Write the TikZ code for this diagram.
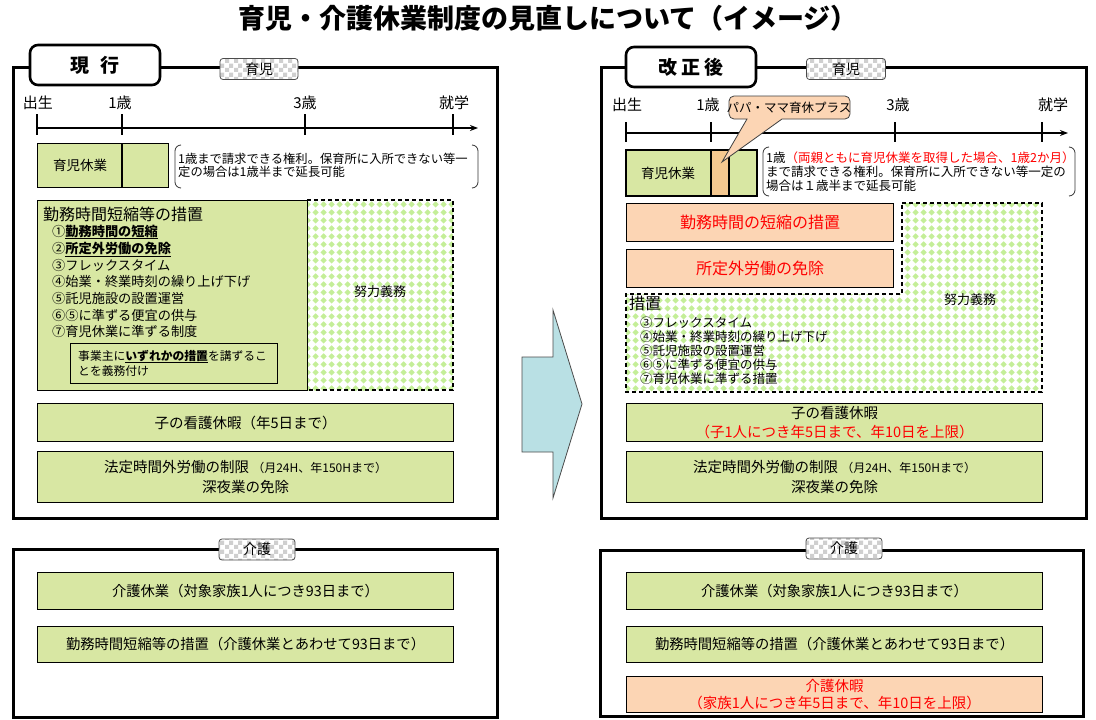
\documentclass[tikz,border=0pt]{standalone}
\usepackage{fontspec}
\setmainfont{Noto Sans CJK JP}
\usetikzlibrary{patterns,patterns.meta,arrows.meta}
\definecolor{gfill}{HTML}{D8E7A3}
\definecolor{ofill}{HTML}{FCD5B4}
\definecolor{oseg}{HTML}{F5C890}
\definecolor{dgreen}{HTML}{C4EE98}
\definecolor{afill}{HTML}{B9E0E4}
\definecolor{jred}{HTML}{FF0000}
\definecolor{chkgray}{HTML}{CFCFCF}
\tikzdeclarepattern{
  name=gdiam,
  type=uncolored,
  bounding box={(0pt,0pt) and (8pt,8pt)},
  tile size={(8pt,8pt)},
  code={\fill (4pt,0.5pt) -- (7.5pt,4pt) -- (4pt,7.5pt) -- (0.5pt,4pt) -- cycle;}
}
\tikzdeclarepattern{
  name=chk,
  type=uncolored,
  bounding box={(0pt,0pt) and (9pt,9pt)},
  tile size={(9pt,9pt)},
  code={\fill (0pt,0pt) rectangle (4.5pt,4.5pt); \fill (4.5pt,4.5pt) rectangle (9pt,9pt);}
}
\begin{document}
\begin{tikzpicture}[x=1pt,y=-1pt,
  frame/.style={draw=black,line width=3pt},
  tabbox/.style={draw=black,line width=2.6pt,fill=white,rounded corners=8pt,inner sep=0pt},
  sectlab/.style={draw=black!70,line width=0.8pt,rounded corners=3pt,preaction={fill=white},pattern=chk,pattern color=chkgray,inner sep=0pt,minimum height=21pt,font=\fontsize{14}{14}\selectfont},
  gbox/.style={draw=black,line width=1.1pt,fill=gfill,inner sep=0pt,align=center},
  obox/.style={draw=black,line width=1.1pt,fill=ofill,inner sep=0pt,align=center},
  tl/.style={line width=1.6pt},
  tickline/.style={line width=1.6pt},
  tlab/.style={font=\fontsize{15}{15}\selectfont,inner sep=0pt},
  brk/.style={line width=0.8pt,black!80,rounded corners=6pt},
  diam/.style={pattern=gdiam,pattern color=dgreen},
  dashbox/.style={draw=black,line width=1.1pt,dash pattern=on 4pt off 3pt},
  txt/.style={inner sep=0pt,anchor=base west},
  ttl/.style={font=\bfseries\fontsize{27}{27}\selectfont,inner sep=0pt}
]
\useasboundingbox (0,0) rectangle (1096,720);
\fill[white] (0,0) rectangle (1096,720);

% title
\node[ttl] (title) at (548,18) {育児・介護休業制度の見直しについて（イメージ）};

% ================= LEFT: current =================
\draw[frame] (13,67) rectangle (497,518);
\node[tabbox,minimum width=130pt,minimum height=40pt,font=\bfseries\fontsize{19}{19}\selectfont] (tabL) at (95,65) {現\hspace{12pt}行};
\node[sectlab,minimum width=78pt] (ikujiL) at (259,69) {育児};

% timeline
\coordinate (tLs) at (37,128);
\coordinate (tLe) at (478,128);
\draw[tl,-{Stealth[length=8pt,width=6pt]}] (tLs) -- (tLe);
\foreach \x in {37,122,305,453} \draw[tickline] (\x,114) -- (\x,135);
\node[tlab] (l0) at (38,103) {出生};
\node[tlab] (l1) at (120,103) {1歳};
\node[tlab] (l3) at (305,103) {3歳};
\node[tlab] (l6) at (454,103) {就学};

% childcare leave box
\node[gbox,minimum width=131pt,minimum height=44pt,anchor=north west] (ikL) at (37,143) {};
\draw[line width=1.1pt] (122,143) -- (122,187);
\node[inner sep=0pt,font=\fontsize{13.5}{13.5}\selectfont] (ikLt) at (80,165) {育児休業};
% bracket note
\draw[brk] (181,145) -- (175,145) -- (175,188) -- (181,188);
\draw[brk] (472,145) -- (478,145) -- (478,188) -- (472,188);
\node[txt,font=\fontsize{12.3}{12.3}\selectfont] (noteL1) at (178,163) {1歳まで請求できる権利。保育所に入所できない等一};
\node[txt,font=\fontsize{12.3}{12.3}\selectfont] (noteL2) at (178,176) {定の場合は1歳半まで延長可能};

% measures
\path[diam] (307,200) rectangle (453,390);
\draw[dashbox] (307,200) -- (453,200) -- (453,390) -- (307,390);
\node[gbox,minimum width=270pt,minimum height=190pt,anchor=north west] (measL) at (37,200) {};
\node[inner sep=0pt,font=\fontsize{13}{13}\selectfont] (effL) at (380,292) {努力義務};
\node[txt,font=\fontsize{16}{16}\selectfont] (mh) at (43,220) {勤務時間短縮等の措置};
\begin{scope}[every node/.style={txt,font=\fontsize{13.2}{13.2}\selectfont}]
\node (m1) at (52,236) {①\textbf{\underline{勤務時間の短縮}}};
\node (m2) at (52,253) {②\textbf{\underline{所定外労働の免除}}};
\node (m3) at (52,270) {③フレックスタイム};
\node (m4) at (52,286) {④始業・終業時刻の繰り上げ下げ};
\node (m5) at (52,303) {⑤託児施設の設置運営};
\node (m6) at (52,320) {⑥⑤に準ずる便宜の供与};
\node (m7) at (52,336) {⑦育児休業に準ずる制度};
\end{scope}
\draw[line width=1pt] (70,343) rectangle (277,383);
\node[txt,font=\fontsize{11.8}{11.8}\selectfont] (dutyA) at (78,360) {事業主に\textbf{\underline{いずれかの措置}}を講ずるこ};
\node[txt,font=\fontsize{11.8}{11.8}\selectfont] (dutyB) at (78,375) {とを義務付け};

\node[gbox,minimum width=416pt,minimum height=38pt,anchor=north west,font=\fontsize{14.5}{14.5}\selectfont] (kangoL) at (37,403) {子の看護休暇（年5日まで）};
\node[gbox,minimum width=416pt,minimum height=51pt,anchor=north west,font=\fontsize{14.5}{20}\selectfont] (otL) at (37,451) {法定時間外労働の制限 {\fontsize{12}{12}\selectfont（月24H、年150Hまで）}\\深夜業の免除};

% ================= LEFT: nursing care =================
\draw[frame] (13,549) rectangle (497,717);
\node[sectlab,minimum width=76pt] (kaigoL) at (257,549.5) {介護};
\node[gbox,minimum width=416pt,minimum height=37pt,anchor=north west,font=\fontsize{14.3}{14.3}\selectfont] (kl1) at (37,572) {介護休業（対象家族1人につき93日まで）};
\node[gbox,minimum width=416pt,minimum height=36pt,anchor=north west,font=\fontsize{14.3}{14.3}\selectfont] (kl2) at (37,626) {勤務時間短縮等の措置（介護休業とあわせて93日まで）};

% ================= ARROW =================
\node[inner sep=0pt] (arrowc) at (552,404) {};
\draw[draw=black!70,line width=0.8pt,fill=afill] (522,357) -- (553,357) -- (553,310) -- (582,404) -- (553,498) -- (553,452) -- (522,452) -- cycle;

% ================= RIGHT: revised =================
\draw[frame] (601,67) rectangle (1086,518);
\node[tabbox,minimum width=130pt,minimum height=40pt,font=\bfseries\fontsize{19}{19}\selectfont] (tabR) at (691,67) {改\hspace{4pt}正\hspace{4pt}後};
\node[sectlab,minimum width=79pt] (ikujiR) at (846,69) {育児};

\coordinate (tRs) at (626,133);
\coordinate (tRe) at (1068,133);
\draw[tl,-{Stealth[length=8pt,width=6pt]}] (tRs) -- (tRe);
\foreach \x in {626,711,895,1042} \draw[tickline] (\x,122) -- (\x,142);
\node[tlab] (r0) at (627,105) {出生};
\node[tlab] (r1) at (708,105) {1歳};
\node[tlab] (r3) at (898,105) {3歳};
\node[tlab] (r6) at (1053,105) {就学};

\node[gbox,minimum width=131pt,minimum height=46pt,anchor=north west] (ikR) at (626,150) {};
\fill[oseg] (711,150) rectangle (729,196);
\draw[line width=1.1pt] (711,150) -- (711,196) (729,150) -- (729,196);
\draw[line width=1.1pt] (626,150) rectangle (757,196);
\node[inner sep=0pt,font=\fontsize{13.5}{13.5}\selectfont] (ikRt) at (668,173) {育児休業};

% callout
\coordinate (pptip) at (722,162);
\draw[draw=black!75,line width=0.8pt,fill=ofill] (747,119) -- (pptip) -- (782,119) [rounded corners=5pt] -- (850,119) -- (850,96) -- (729,96) -- (729,119) [sharp corners] -- cycle;
\node[inner sep=0pt,font=\fontsize{12.5}{12.5}\selectfont] (pp) at (789,108) {パパ・ママ育休プラス};

\draw[brk] (769,147) -- (763,147) -- (763,196) -- (769,196);
\draw[brk] (1069,147) -- (1075,147) -- (1075,196) -- (1069,196);
\node[txt,font=\fontsize{12.5}{12.5}\selectfont] (noteR1) at (766,162) {1歳\textcolor{jred}{（両親ともに育児休業を取得した場合、1歳2か月）}};
\node[txt,font=\fontsize{12.5}{12.5}\selectfont] (noteR2) at (766,176) {まで請求できる権利。保育所に入所できない等一定の};
\node[txt,font=\fontsize{12.5}{12.5}\selectfont] (noteR3) at (766,190) {場合は１歳半まで延長可能};

% L-shaped effort region
\path[diam] (902,203) -- (1042,203) -- (1042,392) -- (626,392) -- (626,294) -- (902,294) -- cycle;
\draw[dashbox] (902,203) -- (1042,203) -- (1042,392) -- (626,392) -- (626,294) -- (902,294) -- cycle;
\node[obox,minimum width=267pt,minimum height=38pt,anchor=north west,text=jred,font=\fontsize{16}{16}\selectfont] (shortR) at (626,203) {勤務時間の短縮の措置};
\node[obox,minimum width=267pt,minimum height=38pt,anchor=north west,text=jred,font=\fontsize{16}{16}\selectfont] (otexR) at (626,249) {所定外労働の免除};
\node[inner sep=0pt,font=\fontsize{13}{13}\selectfont] (effR) at (970,300) {努力義務};
\node[txt,font=\fontsize{16}{16}\selectfont] (mhR) at (629,309) {措置};
\begin{scope}[every node/.style={txt,font=\fontsize{12.5}{12.5}\selectfont}]
\node (n3) at (640,327) {③フレックスタイム};
\node (n4) at (640,341) {④始業・終業時刻の繰り上げ下げ};
\node (n5) at (640,355) {⑤託児施設の設置運営};
\node (n6) at (640,369) {⑥⑤に準ずる便宜の供与};
\node (n7) at (640,383) {⑦育児休業に準ずる措置};
\end{scope}

\node[gbox,minimum width=416pt,minimum height=38pt,anchor=north west,font=\fontsize{14.5}{19}\selectfont] (kangoR) at (626,403) {子の看護休暇\\\textcolor{jred}{（子1人につき年5日まで、年10日を上限）}};
\node[gbox,minimum width=416pt,minimum height=51pt,anchor=north west,font=\fontsize{14.5}{20}\selectfont] (otR) at (626,451) {法定時間外労働の制限 {\fontsize{12}{12}\selectfont（月24H、年150Hまで）}\\深夜業の免除};

% ================= RIGHT: nursing care =================
\draw[frame] (600,550) rectangle (1083,716);
\node[sectlab,minimum width=76pt] (kaigoR) at (844,548.5) {介護};
\node[gbox,minimum width=416pt,minimum height=37pt,anchor=north west,font=\fontsize{14.3}{14.3}\selectfont] (kr1) at (626,572) {介護休業（対象家族1人につき93日まで）};
\node[gbox,minimum width=416pt,minimum height=36pt,anchor=north west,font=\fontsize{14.3}{14.3}\selectfont] (kr2) at (626,626) {勤務時間短縮等の措置（介護休業とあわせて93日まで）};
\node[obox,minimum width=416pt,minimum height=36pt,anchor=north west,text=jred,font=\fontsize{14.5}{17}\selectfont] (kr3) at (626,676) {介護休暇\\（家族1人につき年5日まで、年10日を上限）};
\end{tikzpicture}
\end{document}
